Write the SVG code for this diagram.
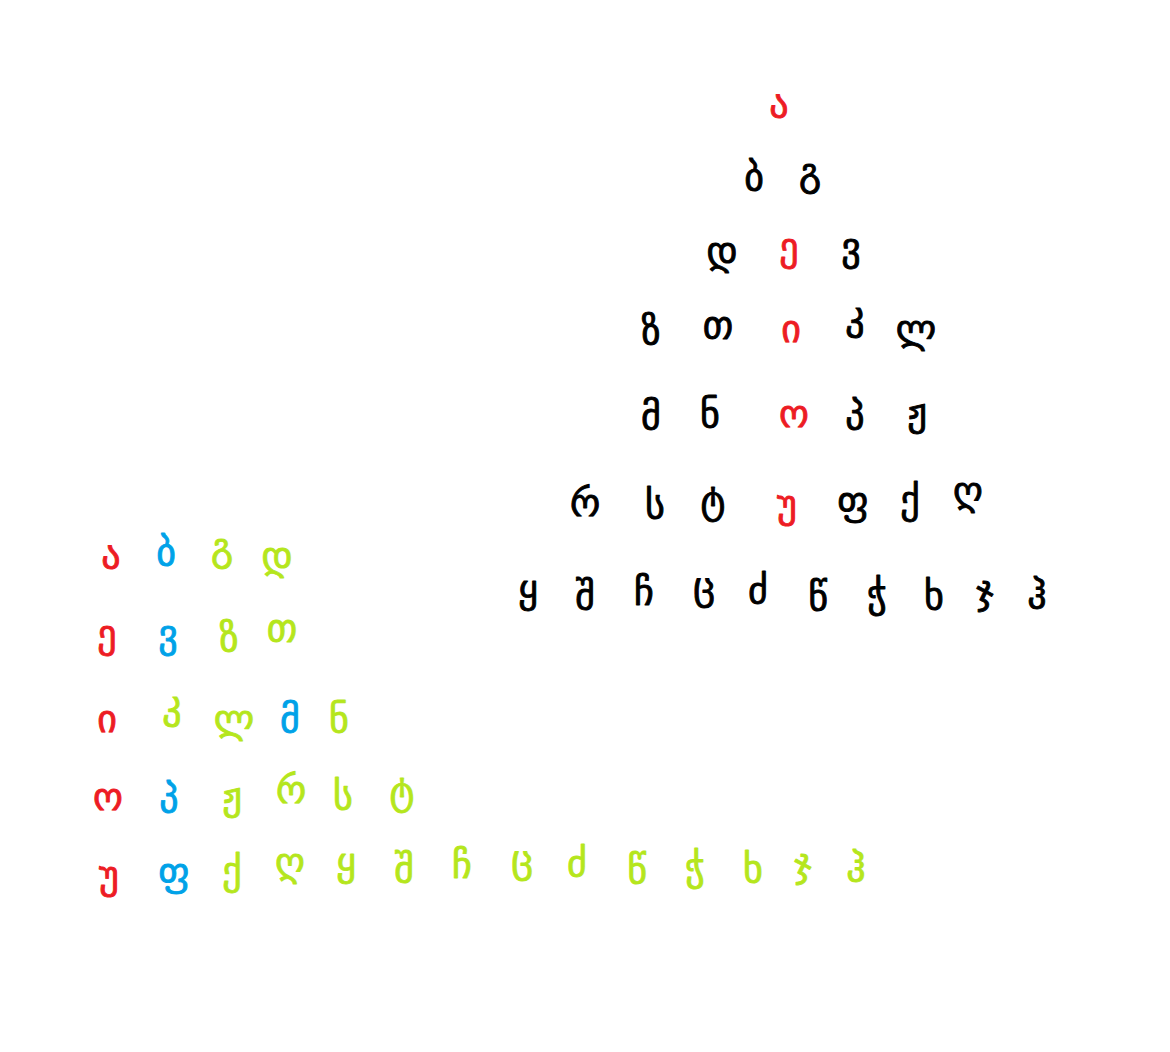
<svg xmlns="http://www.w3.org/2000/svg" width="1170" height="1052" viewBox="0 0 1170 1052">
<style>
text{font-family:"DejaVu Sans",sans-serif;font-size:38px;text-anchor:middle;stroke-width:0.9px;stroke-linejoin:round}
.k{fill:#000;stroke:#000}.r{fill:#ED1C24;stroke:#ED1C24}.b{fill:#00A2E8;stroke:#00A2E8}.g{fill:#B5E61D;stroke:#B5E61D}
</style>
<rect width="1170" height="1052" fill="#fff"/>
<g id="triangle">
<text class="r" x="779" y="117">ა</text>
<text class="k" x="754" y="190">ბ</text>
<text class="k" x="810" y="185">გ</text>
<text class="k" x="722" y="264">დ</text>
<text class="r" x="789" y="260">ე</text>
<text class="k" x="851" y="260">ვ</text>
<text class="k" x="651" y="344">ზ</text>
<text class="k" x="718" y="338">თ</text>
<text class="r" x="791" y="342">ი</text>
<text class="k" x="855" y="329">კ</text>
<text class="k" x="916" y="342">ლ</text>
<text class="k" x="651" y="429">მ</text>
<text class="k" x="710" y="427">ნ</text>
<text class="r" x="794" y="427">ო</text>
<text class="k" x="855" y="429">პ</text>
<text class="k" x="917" y="425">ჟ</text>
<text class="k" x="585" y="516">რ</text>
<text class="k" x="655" y="518">ს</text>
<text class="k" x="713" y="513">ტ</text>
<text class="r" x="787" y="517">უ</text>
<text class="k" x="853" y="514">ფ</text>
<text class="k" x="910" y="513">ქ</text>
<text class="k" x="968" y="504">ღ</text>
<text class="k" x="528" y="602">ყ</text>
<text class="k" x="585" y="609">შ</text>
<text class="k" x="644" y="605">ჩ</text>
<text class="k" x="704" y="599">ც</text>
<text class="k" x="758" y="603">ძ</text>
<text class="k" x="818" y="610">წ</text>
<text class="k" x="877" y="607">ჭ</text>
<text class="k" x="934" y="609">ხ</text>
<text class="k" x="985" y="603">ჯ</text>
<text class="k" x="1037" y="608">ჰ</text>
</g>
<g id="grid">
<text class="r" x="111" y="568">ა</text>
<text class="b" x="166" y="565">ბ</text>
<text class="g" x="222" y="560">გ</text>
<text class="g" x="277" y="569">დ</text>
<text class="r" x="107" y="647">ე</text>
<text class="b" x="168" y="647">ვ</text>
<text class="g" x="229" y="651">ზ</text>
<text class="g" x="282" y="641">თ</text>
<text class="r" x="107" y="732">ი</text>
<text class="g" x="172" y="718">კ</text>
<text class="g" x="234" y="732">ლ</text>
<text class="b" x="290" y="732">მ</text>
<text class="g" x="339" y="732">ნ</text>
<text class="r" x="108" y="810">ო</text>
<text class="b" x="169" y="812">პ</text>
<text class="g" x="232" y="809">ჟ</text>
<text class="g" x="291" y="803">რ</text>
<text class="g" x="343" y="809">ს</text>
<text class="g" x="402" y="804">ტ</text>
<text class="r" x="109" y="888">უ</text>
<text class="b" x="174" y="885">ფ</text>
<text class="g" x="232" y="884">ქ</text>
<text class="g" x="290" y="875">ღ</text>
<text class="g" x="346" y="875">ყ</text>
<text class="g" x="404" y="882">შ</text>
<text class="g" x="462" y="878">ჩ</text>
<text class="g" x="522" y="872">ც</text>
<text class="g" x="577" y="876">ძ</text>
<text class="g" x="637" y="883">წ</text>
<text class="g" x="695" y="880">ჭ</text>
<text class="g" x="753" y="882">ხ</text>
<text class="g" x="803" y="876">ჯ</text>
<text class="g" x="856" y="881">ჰ</text>
</g>
</svg>
